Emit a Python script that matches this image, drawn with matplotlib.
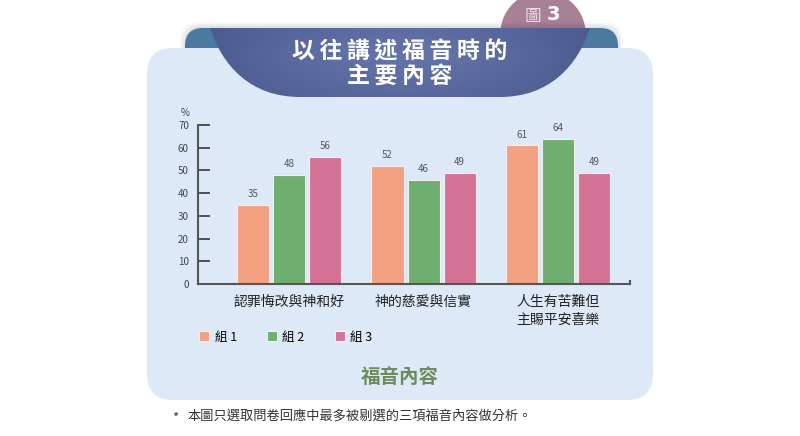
import numpy as np
import matplotlib
matplotlib.use('Agg')
import matplotlib.pyplot as plt
from matplotlib.patches import FancyBboxPatch, Circle, PathPatch
from matplotlib.path import Path
from matplotlib import colors

plt.rcParams['font.family'] = ['Noto Sans CJK TC', 'DejaVu Sans']

categories = ['認罪悔改與神和好', '神的慈愛與信實', '人生有苦難但\n主賜平安喜樂']
group_names = ['組 1', '組 2', '組 3']
group1 = [35, 52, 61]
group2 = [48, 46, 64]
group3 = [56, 49, 49]
yticks = [0, 10, 20, 30, 40, 50, 60, 70]

bar_colors = ['#f4a082', '#6eae6e', '#d47396']

fig = plt.figure(figsize=(8, 4.36), dpi=100)

# background layer in pixel coords
bg = fig.add_axes([0, 0, 1, 1])
bg.set_xlim(0, 800)
bg.set_ylim(436, 0)
bg.axis('off')

# pink tab behind the banner
bg.add_patch(Circle((543, 34), 42, color='#a98196', zorder=1))
bg.text(533, 16, '圖', color='#eadde4', fontsize=12, ha='center', va='center', zorder=2)
bg.text(553, 15, '3', color='white', fontsize=14, fontweight='bold', ha='center', va='center',
        family='DejaVu Sans', zorder=2)

# soft shadow
for i, a in enumerate([0.05, 0.04, 0.03]):
    bg.add_patch(FancyBboxPatch((184 - i * 2, 26 - i * 2), 435 + i * 4, 40,
                                boxstyle='round,pad=0,rounding_size=20',
                                fc='#000000', ec='none', alpha=a, zorder=2))

# teal back strip
bg.add_patch(FancyBboxPatch((185, 28), 433, 40, boxstyle='round,pad=0,rounding_size=18',
                            fc='#4a7aa0', ec='none', zorder=3))

# light panel
bg.add_patch(FancyBboxPatch((147, 48), 506, 352, boxstyle='round,pad=0,rounding_size=26',
                            fc='#dde9f6', ec='none', zorder=4))

# main ribbon
verts = [(210, 28), (590, 28),
         (578, 65), (550, 97), (500, 97),
         (300, 97),
         (250, 97), (222, 65), (210, 28),
         (210, 28)]
codes = [Path.MOVETO, Path.LINETO,
         Path.CURVE4, Path.CURVE4, Path.CURVE4,
         Path.LINETO,
         Path.CURVE4, Path.CURVE4, Path.CURVE4,
         Path.CLOSEPOLY]
ribbon = PathPatch(Path(verts, codes), fc='none', ec='none', zorder=5)
bg.add_patch(ribbon)
gx = np.linspace(-1, 1, 200)
gy = np.linspace(0, 1, 40)
grad = (1 - np.abs(gx)[None, :] ** 1.5) * (1 - 0.8 * np.abs(gy[:, None] - 0.4))
cmap = colors.LinearSegmentedColormap.from_list('rib', ['#4b5b8f', '#6575aa'])
im = bg.imshow(grad, extent=(205, 595, 97, 28), cmap=cmap, aspect='auto', zorder=5)
im.set_clip_path(ribbon)

tfam = ['Noto Sans CJK TC', 'DejaVu Sans']
bg.text(400, 52, '\u2009'.join('以往講述福音時的'), color='white', fontsize=16.5,
        fontweight='heavy', ha='center', va='center', family=tfam, zorder=6)
bg.text(400, 76, '\u2009'.join('主要內容'), color='white', fontsize=16.5,
        fontweight='heavy', ha='center', va='center', family=tfam, zorder=6)

bg.text(185, 113, '%', fontsize=7, color='#444', ha='center', va='center', zorder=6)
bg.text(400, 377, '福音內容', fontsize=14, fontweight='bold', color='#6e8b5e',
        ha='center', va='center', zorder=6)
bg.text(172, 418, '*', fontsize=9.5, color='#333', ha='left', va='center', zorder=6)
bg.text(187, 417, '本圖只選取問卷回應中最多被剔選的三項福音內容做分析。', fontsize=9.5,
        color='#333', ha='left', va='center', zorder=6)

# chart
ax = fig.add_axes([198 / 800, (436 - 284) / 436, 432 / 800, 159 / 436])
ax.patch.set_alpha(0)
x = np.arange(len(categories))
w = 0.238
step = 0.268
handles = []
for i, vals in enumerate([group1, group2, group3]):
    b = ax.bar(x + (i - 1) * step, vals, w, color=bar_colors[i], edgecolor='#f3eef0',
               linewidth=0.8, label=group_names[i])
    ax.bar_label(b, padding=4, fontsize=7, color='#555')
    handles.append(b)

ax.set_xlim(-0.677, 2.535)
ax.set_ylim(0, 70)
ax.set_yticks(yticks)
ax.set_xticks(x, categories)
ax.tick_params(axis='y', direction='in', length=8.5, width=1.3, color='#444',
               labelsize=7, labelcolor='#444', pad=6.5)
ax.tick_params(axis='x', length=0, labelsize=10, pad=8, labelcolor='#222')
for lbl in ax.get_xticklabels():
    lbl.set_linespacing(1.3)
for s in ['left', 'bottom', 'right']:
    ax.spines[s].set_color('#555')
    ax.spines[s].set_linewidth(1.5)
ax.spines['top'].set_visible(False)
ax.spines['right'].set_bounds(0, 1.5)

fig.legend(handles=handles, labels=group_names, loc='center left',
           bbox_to_anchor=(199 / 800, 1 - 337 / 436), ncol=3, frameon=False,
           fontsize=9, handlelength=0.8, handleheight=0.8, handletextpad=0.45,
           columnspacing=2.4, borderpad=0, borderaxespad=0)

fig.savefig('out.png', dpi=100)
